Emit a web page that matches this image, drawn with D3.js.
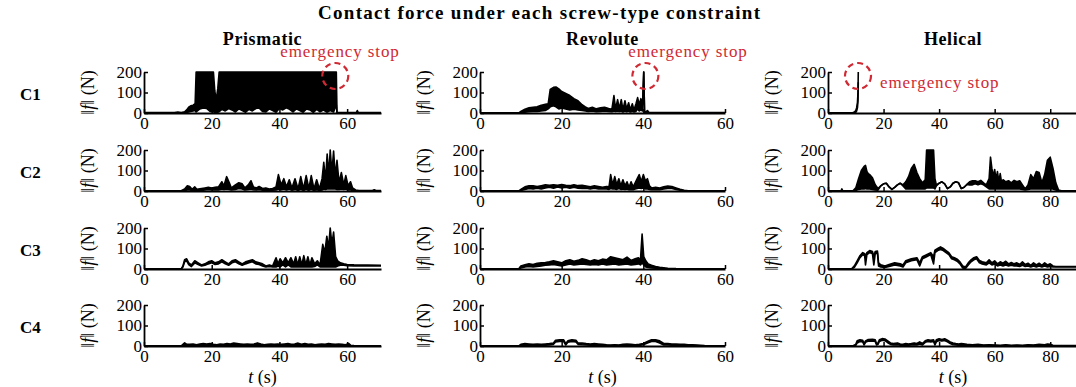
<!DOCTYPE html>
<html><head><meta charset="utf-8">
<script src="https://cdn.jsdelivr.net/npm/d3@7"></script>
<style>body{margin:0;background:#fff}svg{display:block}</style>
</head><body>
<script>
// ---- DATA ----
const rowLabels = ["C1","C2","C3","C4"];
const colTitles = ["Prismatic","Revolute","Helical"];
const xMax = [70, 60, 90];
const xTickVals = [[0,20,40,60],[0,20,40,60],[0,20,40,60,80]];
const yTickVals = [0,100,200];
const mainTitle = "Contact force under each screw-type constraint";
const stopText = "emergency stop";
// each point: [t (s), upper envelope (N), lower envelope (N)]
const c1Pri = [[0,2,0],[9,2,0],[10,5,0],[11,2,0],[12,6,0],[12.6,15,2],[13.2,28,5],[13.8,35,8],[14.5,38,10],[15.1,45,12],[15.4,200,5],[16.5,200,20],[17.5,200,25],[18.5,200,22],[19.5,200,8],[20.5,200,5],[20.9,110,4],[21.3,60,5],[21.8,120,4],[22.2,200,6],[23,200,18],[24,200,10],[25,200,22],[26,200,15],[27,200,5],[28,200,20],[29,200,12],[30,200,4],[31,200,18],[32,200,10],[33,200,22],[34,200,25],[35,200,8],[36,200,5],[37,200,20],[38,200,12],[39,200,4],[40,200,22],[41,200,15],[42,200,25],[43,200,18],[44,200,5],[45,200,20],[46,200,12],[47,200,4],[48,200,20],[49,200,15],[50,200,3],[51,200,18],[52,200,6],[53,200,14],[54,200,4],[55,200,12],[56,200,5],[56.8,200,40],[57,2,0],[62.7,2,0],[63,12,0],[63.3,2,0],[70,2,0]];
const c1Rev = [[0,1,0],[9.5,1,0],[10,8,2],[11,18,4],[12,25,6],[13,28,8],[14,30,8],[15,38,10],[16,42,12],[16.7,45,20],[17.2,115,30],[18,125,35],[18.6,127,30],[19.3,118,20],[20,105,25],[21,95,20],[22,85,15],[23,70,18],[24,60,15],[25,40,12],[25.8,30,10],[26.5,22,8],[27.5,28,10],[28.5,20,6],[29.5,25,8],[30.5,28,10],[31.5,22,8],[32.3,18,6],[32.8,85,10],[33.2,20,8],[33.7,65,10],[34.1,20,8],[34.6,65,10],[35,15,5],[35.5,60,10],[35.9,20,6],[36.4,50,10],[36.8,15,5],[37.3,45,8],[37.7,15,5],[38.2,45,8],[38.6,75,20],[39,40,10],[39.4,70,15],[39.8,40,10],[40.1,200,200],[40.3,2,0],[41,12,0],[41.4,2,0],[60,2,0]];
const c1Hel = [[0,1,0],[8.5,1,0],[9,2,0],[9.5,5,1],[10,12,4],[10.3,25,10],[10.6,50,25],[10.8,100,60],[10.9,200,150]];
const c2Pri = [[0,1,0],[11,1,0],[12,10,2],[12.8,25,5],[13.5,22,5],[14.2,8,2],[15,20,3],[15.6,8,2],[17,12,3],[18,15,5],[19,18,8],[20,15,5],[21,18,6],[22,20,5],[23,45,10],[23.6,25,8],[24.4,70,10],[25.2,40,8],[25.8,15,5],[27,30,8],[28,40,12],[29,35,10],[29.8,15,5],[30.8,30,8],[31.6,50,10],[32.3,20,6],[33.2,15,5],[34,22,8],[35,12,4],[36,15,5],[37,10,3],[38,12,4],[39,20,5],[39.7,80,10],[40.5,30,6],[41.3,60,10],[42.1,20,5],[42.9,55,10],[43.7,15,4],[44.6,60,8],[45.5,10,3],[46.3,70,8],[47.1,10,3],[47.9,75,8],[48.7,12,3],[49.4,75,8],[50.2,10,3],[51,55,6],[51.8,10,3],[52.6,60,5],[53.1,140,10],[53.6,50,8],[54.1,180,10],[54.6,80,10],[55,200,10],[55.5,90,10],[56,195,10],[56.5,70,10],[57,150,8],[57.6,40,8],[58.3,90,10],[59,30,8],[59.6,75,10],[60.3,25,5],[61,45,5],[61.6,15,3],[62.5,5,1],[63.5,2,0],[67.5,2,0],[68,6,0],[68.5,2,0],[70,2,0]];
const c2Rev = [[0,1,0],[9.5,1,0],[10,8,2],[11,20,8],[12,25,12],[13,25,10],[14,22,14],[15,26,10],[16,30,15],[17,28,18],[18,30,14],[19,28,20],[20,32,15],[21,28,18],[22,26,14],[23,30,18],[24,26,14],[25,28,12],[26,24,14],[27,20,10],[28,25,14],[29,22,10],[30,18,10],[31,22,10],[31.6,20,8],[32,80,12],[32.5,30,10],[33,70,10],[33.5,30,8],[34,60,12],[34.5,25,8],[35,55,10],[35.5,25,8],[36,45,10],[36.5,18,6],[37,45,8],[37.5,20,6],[38,40,10],[38.5,60,12],[39,80,15],[39.5,45,12],[40,80,15],[40.5,50,10],[41,60,10],[41.5,25,8],[42,15,6],[43,18,8],[44,15,6],[45,20,10],[46,24,12],[47,22,12],[48,15,8],[49,8,4],[50,3,1],[51,1,0],[60,1,0]];
const c2Hel = [[0,1,0],[4.7,1,0],[5,10,0],[5.3,1,0],[9,1,0],[10,15,3],[11,60,8],[12,100,10],[13,120,10],[13.5,125,12],[14,95,10],[14.5,85,10],[15,80,10],[16,65,8],[17,30,5],[18,12,4],[19,25,25],[20,35,35],[21,38,38],[22,20,20],[23,8,8],[24,18,18],[25,30,30],[26,38,38],[27,30,25],[28,45,10],[29,70,10],[30,110,10],[31,130,10],[32,90,10],[33,60,10],[34,40,10],[35,55,10],[35.5,200,15],[38,200,15],[38.5,60,10],[39,30,25],[40,38,38],[41,45,45],[42,35,35],[43,12,12],[44,20,20],[45,38,38],[46,45,45],[47,40,40],[48,12,12],[49,18,18],[50,32,32],[51,45,30],[52,50,30],[53,50,35],[54,45,30],[55,52,35],[56,40,30],[57,30,20],[58,60,10],[58.5,165,10],[59,110,10],[59.5,70,10],[60,105,10],[60.5,55,10],[61,95,10],[61.5,45,10],[62,85,10],[62.5,40,10],[63,55,10],[64,45,10],[65,50,10],[66,40,10],[67,52,10],[68,45,10],[69,50,10],[70,30,8],[71,10,5],[72,30,8],[73,80,10],[74,60,10],[75,95,10],[76,90,10],[77,40,10],[78,80,10],[79,150,10],[80,165,10],[81,110,10],[82,40,5],[83,5,1],[84,1,0],[90,1,0]];
const c3Pri = [[0,1,0],[11,1,0],[11.5,15,10],[12,45,35],[12.6,50,40],[13.2,30,22],[14,20,12],[15,40,30],[16,30,22],[17,20,15],[18,25,18],[19,35,25],[20,40,30],[21,30,22],[22,35,25],[23,45,35],[24,35,25],[25,25,18],[26,40,30],[27,45,35],[28,35,25],[29,25,18],[30,35,25],[31,40,30],[32,45,35],[33,35,25],[34,30,22],[35,25,15],[36,15,10],[37,20,12],[38,15,10],[39,55,10],[39.6,25,15],[40.2,50,10],[41,30,20],[41.8,55,10],[42.6,30,20],[43.4,55,10],[44.2,25,10],[44.8,60,10],[45.4,20,10],[46,60,10],[46.6,20,10],[47.2,65,10],[47.8,20,10],[48.4,60,10],[49,20,10],[49.6,55,10],[50.4,25,12],[51.2,40,20],[52,20,10],[52.8,120,10],[53.4,80,10],[54,160,10],[54.5,100,10],[55,200,10],[55.5,120,10],[56,180,10],[56.6,60,10],[57.2,40,15],[58,30,18],[59,25,18],[60,22,16],[62,20,15],[66,19,15],[70,18,15]];
const c3Rev = [[0,1,0],[9.5,1,0],[10,15,5],[11,20,10],[12,25,12],[13,22,10],[14,28,12],[15,30,15],[16,32,18],[17,35,20],[18,40,22],[19,35,18],[20,30,15],[21,40,20],[22,45,25],[23,38,20],[24,42,22],[25,50,25],[26,45,22],[27,38,20],[28,45,22],[29,40,20],[30,48,25],[31,45,20],[32,60,22],[33,55,25],[34,50,20],[35,45,22],[36,58,25],[37,42,20],[38,50,22],[38.8,55,25],[39.3,45,20],[39.7,170,30],[40.1,60,20],[40.6,40,10],[41.2,25,8],[42,18,5],[43,12,4],[44,8,2],[46,4,1],[48,2,0],[60,1,0]];
const c3Hel = [[0,1,0],[8.5,1,0],[9.5,15,8],[10.5,40,30],[11.5,65,55],[12.5,80,70],[13.2,75,65],[13.5,60,20],[14,80,70],[15,90,80],[16,85,75],[16.5,60,20],[17,85,75],[17.8,88,78],[18.2,30,15],[19,20,10],[20.5,15,8],[22,22,12],[24,30,20],[26,25,15],[27,20,10],[28,40,30],[30,50,40],[32,55,45],[33,30,15],[34,60,50],[35.5,70,60],[37,80,70],[38,60,25],[38.5,92,80],[39.5,100,90],[40.5,108,95],[41.5,100,90],[42.5,90,80],[43.5,80,70],[44.5,60,50],[45.5,55,45],[46.5,48,38],[47.5,35,25],[48.5,15,5],[49.5,10,3],[50.5,30,20],[51.5,45,35],[52.5,55,45],[53.5,60,50],[54.5,42,30],[55.5,35,25],[57,30,20],[58,45,30],[59,30,20],[60,40,25],[61,25,15],[62,35,20],[63,28,15],[64,38,20],[65,25,15],[66,32,18],[67,25,15],[68,30,15],[69,22,12],[70,35,18],[71,22,12],[72,28,15],[73,18,10],[74,30,15],[75,20,10],[76,28,15],[77,18,10],[78,30,15],[79,20,10],[80,25,12],[81,15,10],[82,12,10],[90,12,10]];
const c4Pri = [[0,1,0],[11,1,0],[11.5,8,2],[12,15,3],[12.5,10,2],[13.5,8,2],[14.5,10,3],[15.5,6,2],[16.5,10,3],[17.5,12,4],[18.5,10,3],[19.5,12,4],[20.5,8,2],[21.5,6,2],[22.5,10,3],[23.5,8,2],[24.5,12,3],[25.5,10,3],[26.5,14,4],[27.5,12,3],[28.5,10,3],[29.5,8,2],[30.5,10,3],[31.5,8,2],[32.5,10,3],[33.5,15,4],[34.5,10,2],[35.5,6,2],[36.5,8,2],[37.5,10,3],[38.5,8,2],[39.5,10,3],[40.5,8,2],[41.5,10,3],[42.5,12,3],[43.5,8,2],[44.5,10,3],[45.5,14,4],[46.5,8,2],[47.5,12,3],[48.5,8,2],[49.5,10,3],[50.5,6,2],[51.5,8,2],[52.5,10,3],[53.5,8,2],[54.5,12,3],[55.5,10,3],[56.5,8,2],[57.5,10,2],[58.5,8,2],[59.5,6,2],[60.5,12,2],[61,4,1],[62,2,0],[70,1,0]];
const c4Rev = [[0,1,0],[9.5,1,0],[10,8,3],[11,12,5],[12,10,4],[13,8,3],[14,10,4],[15,8,3],[16,10,4],[17,12,5],[18,15,8],[18.5,28,20],[19.5,30,22],[20.5,30,22],[21,12,5],[21.5,25,18],[22.5,30,22],[23.5,28,20],[24,15,8],[25,15,6],[26,12,5],[27,10,4],[28,12,5],[29,10,4],[30,8,3],[31,6,2],[32,5,2],[33,6,2],[34,5,2],[35,8,3],[36,10,4],[37,8,3],[38,6,2],[39,8,3],[40,12,6],[41,22,15],[42,30,22],[43,30,22],[44,25,15],[45,12,5],[46,12,5],[47,10,4],[48,10,4],[49,8,3],[50,8,3],[51,6,2],[52,6,2],[53,5,2],[54,4,1],[55,2,0],[60,1,0]];
const c4Hel = [[0,1,0],[9,1,0],[10,8,3],[10.5,25,15],[11.5,30,22],[12.5,28,20],[13,10,5],[13.5,25,18],[14.5,32,24],[16,33,25],[17,30,22],[17.5,10,5],[18,15,8],[18.5,30,22],[19.5,36,28],[20.5,34,26],[21.5,25,16],[22.5,15,8],[23.5,12,5],[25,15,6],[26,10,4],[27,8,3],[28,12,5],[29,10,4],[30,12,5],[31,15,6],[32,12,5],[33,20,10],[34,12,5],[35,25,18],[36,30,22],[37,28,20],[38,30,22],[38.5,12,5],[39,30,20],[40,35,27],[41,32,24],[42,35,27],[43,28,20],[44,20,12],[45,15,6],[46,12,5],[47,10,4],[48,12,5],[50,8,3],[52,6,2],[54,8,3],[56,5,2],[58,6,2],[60,5,2],[62,4,1],[64,6,2],[66,4,1],[68,5,2],[70,4,1],[72,6,2],[74,5,2],[76,8,3],[78,6,2],[79,10,3],[80,8,2],[81,4,1],[82,2,0],[90,2,0]];
const panelData = [[c1Pri,c1Rev,c1Hel],[c2Pri,c2Rev,c2Hel],[c3Pri,c3Rev,c3Hel],[c4Pri,c4Rev,c4Hel]];
// emergency stop markers: [row, col, t, force]
const stopMarks = [[0,0,56.5,200],[0,1,40.5,200],[0,2,10.8,200]];

// ---- LAYOUT ----
const W = 1076, H = 387;
const colX = [144, 480, 828], colW = [237, 245, 250];
const rowY = [72, 150, 228, 305], ph = 41;
const serif = "Liberation Serif, serif";
const red = "#cf2a33";

const svg = d3.select("body").append("svg").attr("width", W).attr("height", H)
  .attr("font-family", serif);
svg.append("rect").attr("width", W).attr("height", H).attr("fill", "#fff");

svg.append("text").attr("x", 539).attr("y", 19).attr("text-anchor", "middle")
  .attr("font-weight", "bold").attr("font-size", 19)
  .attr("textLength", 442).attr("lengthAdjust", "spacing").text(mainTitle);

colTitles.forEach((t, c) => {
  svg.append("text").attr("x", colX[c] + colW[c] / 2).attr("y", 45).attr("text-anchor", "middle")
    .attr("font-weight", "bold").attr("font-size", 18).attr("letter-spacing", 0.6).text(t);
});

rowLabels.forEach((t, r) => {
  svg.append("text").attr("x", 20).attr("y", rowY[r] + ph / 2 + 7)
    .attr("font-weight", "bold").attr("font-size", 17).text(t);
});

const scales = [];
for (let r = 0; r < 4; r++) {
  scales[r] = [];
  for (let c = 0; c < 3; c++) {
    const x = d3.scaleLinear().domain([0, xMax[c]]).range([colX[c], colX[c] + colW[c]]);
    const y = d3.scaleLinear().domain([0, 200]).range([rowY[r] + ph, rowY[r]]);
    scales[r][c] = {x, y};
    const g = svg.append("g");
    const data = panelData[r][c];
    g.append("path").datum(data)
      .attr("d", d3.area().x(d => x(d[0])).y0(d => y(d[2])).y1(d => y(d[1])))
      .attr("fill", "#000");
    [1, 2].forEach(k => {
      g.append("path").datum(data)
        .attr("d", d3.line().x(d => x(d[0])).y(d => y(d[k])))
        .attr("fill", "none").attr("stroke", "#000").attr("stroke-width", 1.6)
        .attr("stroke-linejoin", "round");
    });
    // axes
    const xa = g.append("g").attr("transform", `translate(0,${y(0)})`)
      .call(d3.axisBottom(x).tickValues(xTickVals[c]).tickSizeInner(-4).tickSizeOuter(0).tickPadding(4));
    const ya = g.append("g").attr("transform", `translate(${x(0)},0)`)
      .call(d3.axisLeft(y).tickValues(yTickVals).tickSizeInner(-4).tickSizeOuter(0).tickPadding(2));
    [xa, ya].forEach(a => {
      a.attr("font-family", serif).attr("font-size", 17);
      a.selectAll("text").attr("fill", "#000");
      a.selectAll("line").attr("stroke", "#000").attr("stroke-width", 1.5);
    });
    xa.select(".domain").attr("stroke", "#000").attr("stroke-width", 2.2);
    ya.select(".domain").attr("stroke", "#000").attr("stroke-width", 1.8);
    // y label
    const yl = svg.append("text").attr("text-anchor", "middle").attr("font-size", 18)
      .attr("transform", `translate(${x(0) - 50},${rowY[r] + ph / 2}) rotate(-90)`);
    yl.append("tspan").text("\u2016");
    yl.append("tspan").attr("font-style", "italic").text("f");
    yl.append("tspan").text("\u2016 (N)");
    if (r === 3) {
      const xl = svg.append("text").attr("text-anchor", "middle").attr("font-size", 18)
        .attr("x", colX[c] + colW[c] / 2).attr("y", 383);
      xl.append("tspan").attr("font-style", "italic").text("t");
      xl.append("tspan").text(" (s)");
    }
  }
}

// emergency stop markers
stopMarks.forEach(([r, c, t, f]) => {
  const {x, y} = scales[r][c];
  svg.append("ellipse").attr("cx", x(t)).attr("cy", y(f) + 4).attr("rx", 13).attr("ry", 13)
    .attr("fill", "none").attr("stroke", red).attr("stroke-width", 2.2).attr("stroke-dasharray", "6,4");
});
const stopPos = [[340, 57, "middle"], [688, 57, "middle"], [880, 88, "start"]];
stopPos.forEach(([px, py, anc]) => {
  svg.append("text").attr("x", px).attr("y", py).attr("text-anchor", anc)
    .attr("fill", red).attr("font-size", 17).attr("letter-spacing", 0.9).text(stopText);
});
</script>
</body></html>
